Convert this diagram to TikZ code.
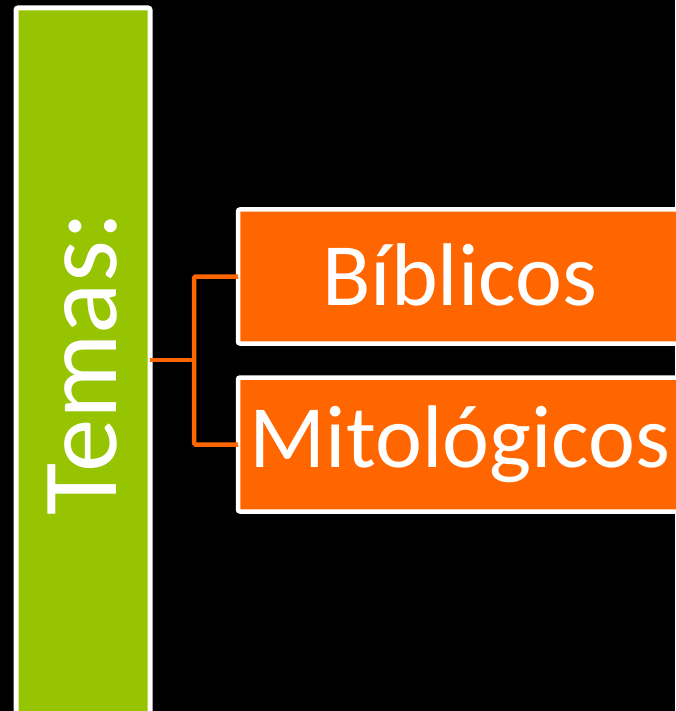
\documentclass[tikz,border=0pt]{standalone}
\usepackage{fontspec}
\setmainfont{Carlito}
\usetikzlibrary{positioning}
\definecolor{themegreen}{RGB}{150,196,0}
\definecolor{topicorange}{RGB}{255,102,0}
\tikzset{
	sketch/.style={x=1pt,y=-1pt,node distance=34pt},
	theme/.style={rectangle,draw=white,line width=5pt,fill=themegreen,rounded corners=2pt,
		minimum width=712pt,minimum height=134pt,inner sep=0pt,outer sep=0pt,
		text=white,font=\fontsize{107}{107}\selectfont},
	topic/.style={rectangle,draw=white,line width=4.5pt,fill=topicorange,rounded corners=2pt,
		minimum width=444pt,minimum height=134pt,inner sep=0pt,outer sep=0pt,
		text=white,font=\fontsize{89}{89}\selectfont},
	branch/.style={draw=topicorange,line width=4.5pt,rounded corners=1.5pt}
}
\begin{document}
\begin{tikzpicture}[sketch]
\fill[black] (0,0) rectangle (675,711);
\useasboundingbox (0,0) rectangle (675,711);

\node[theme,rotate=90] (temas) at (83,364) {Temas:};
\node[topic] (biblicos) at (460,276.5) {\raisebox{3pt}{Bíblicos}};
\node[topic] (mitologicos) [below= of biblicos] {\raisebox{1pt}{Mitológicos}};
\coordinate (fork) at (194,360);

\path[branch] (temas.south |- fork) -- (fork);
\path[branch] (biblicos.west) -| (fork) |- (mitologicos.west);
\end{tikzpicture}
\end{document}
